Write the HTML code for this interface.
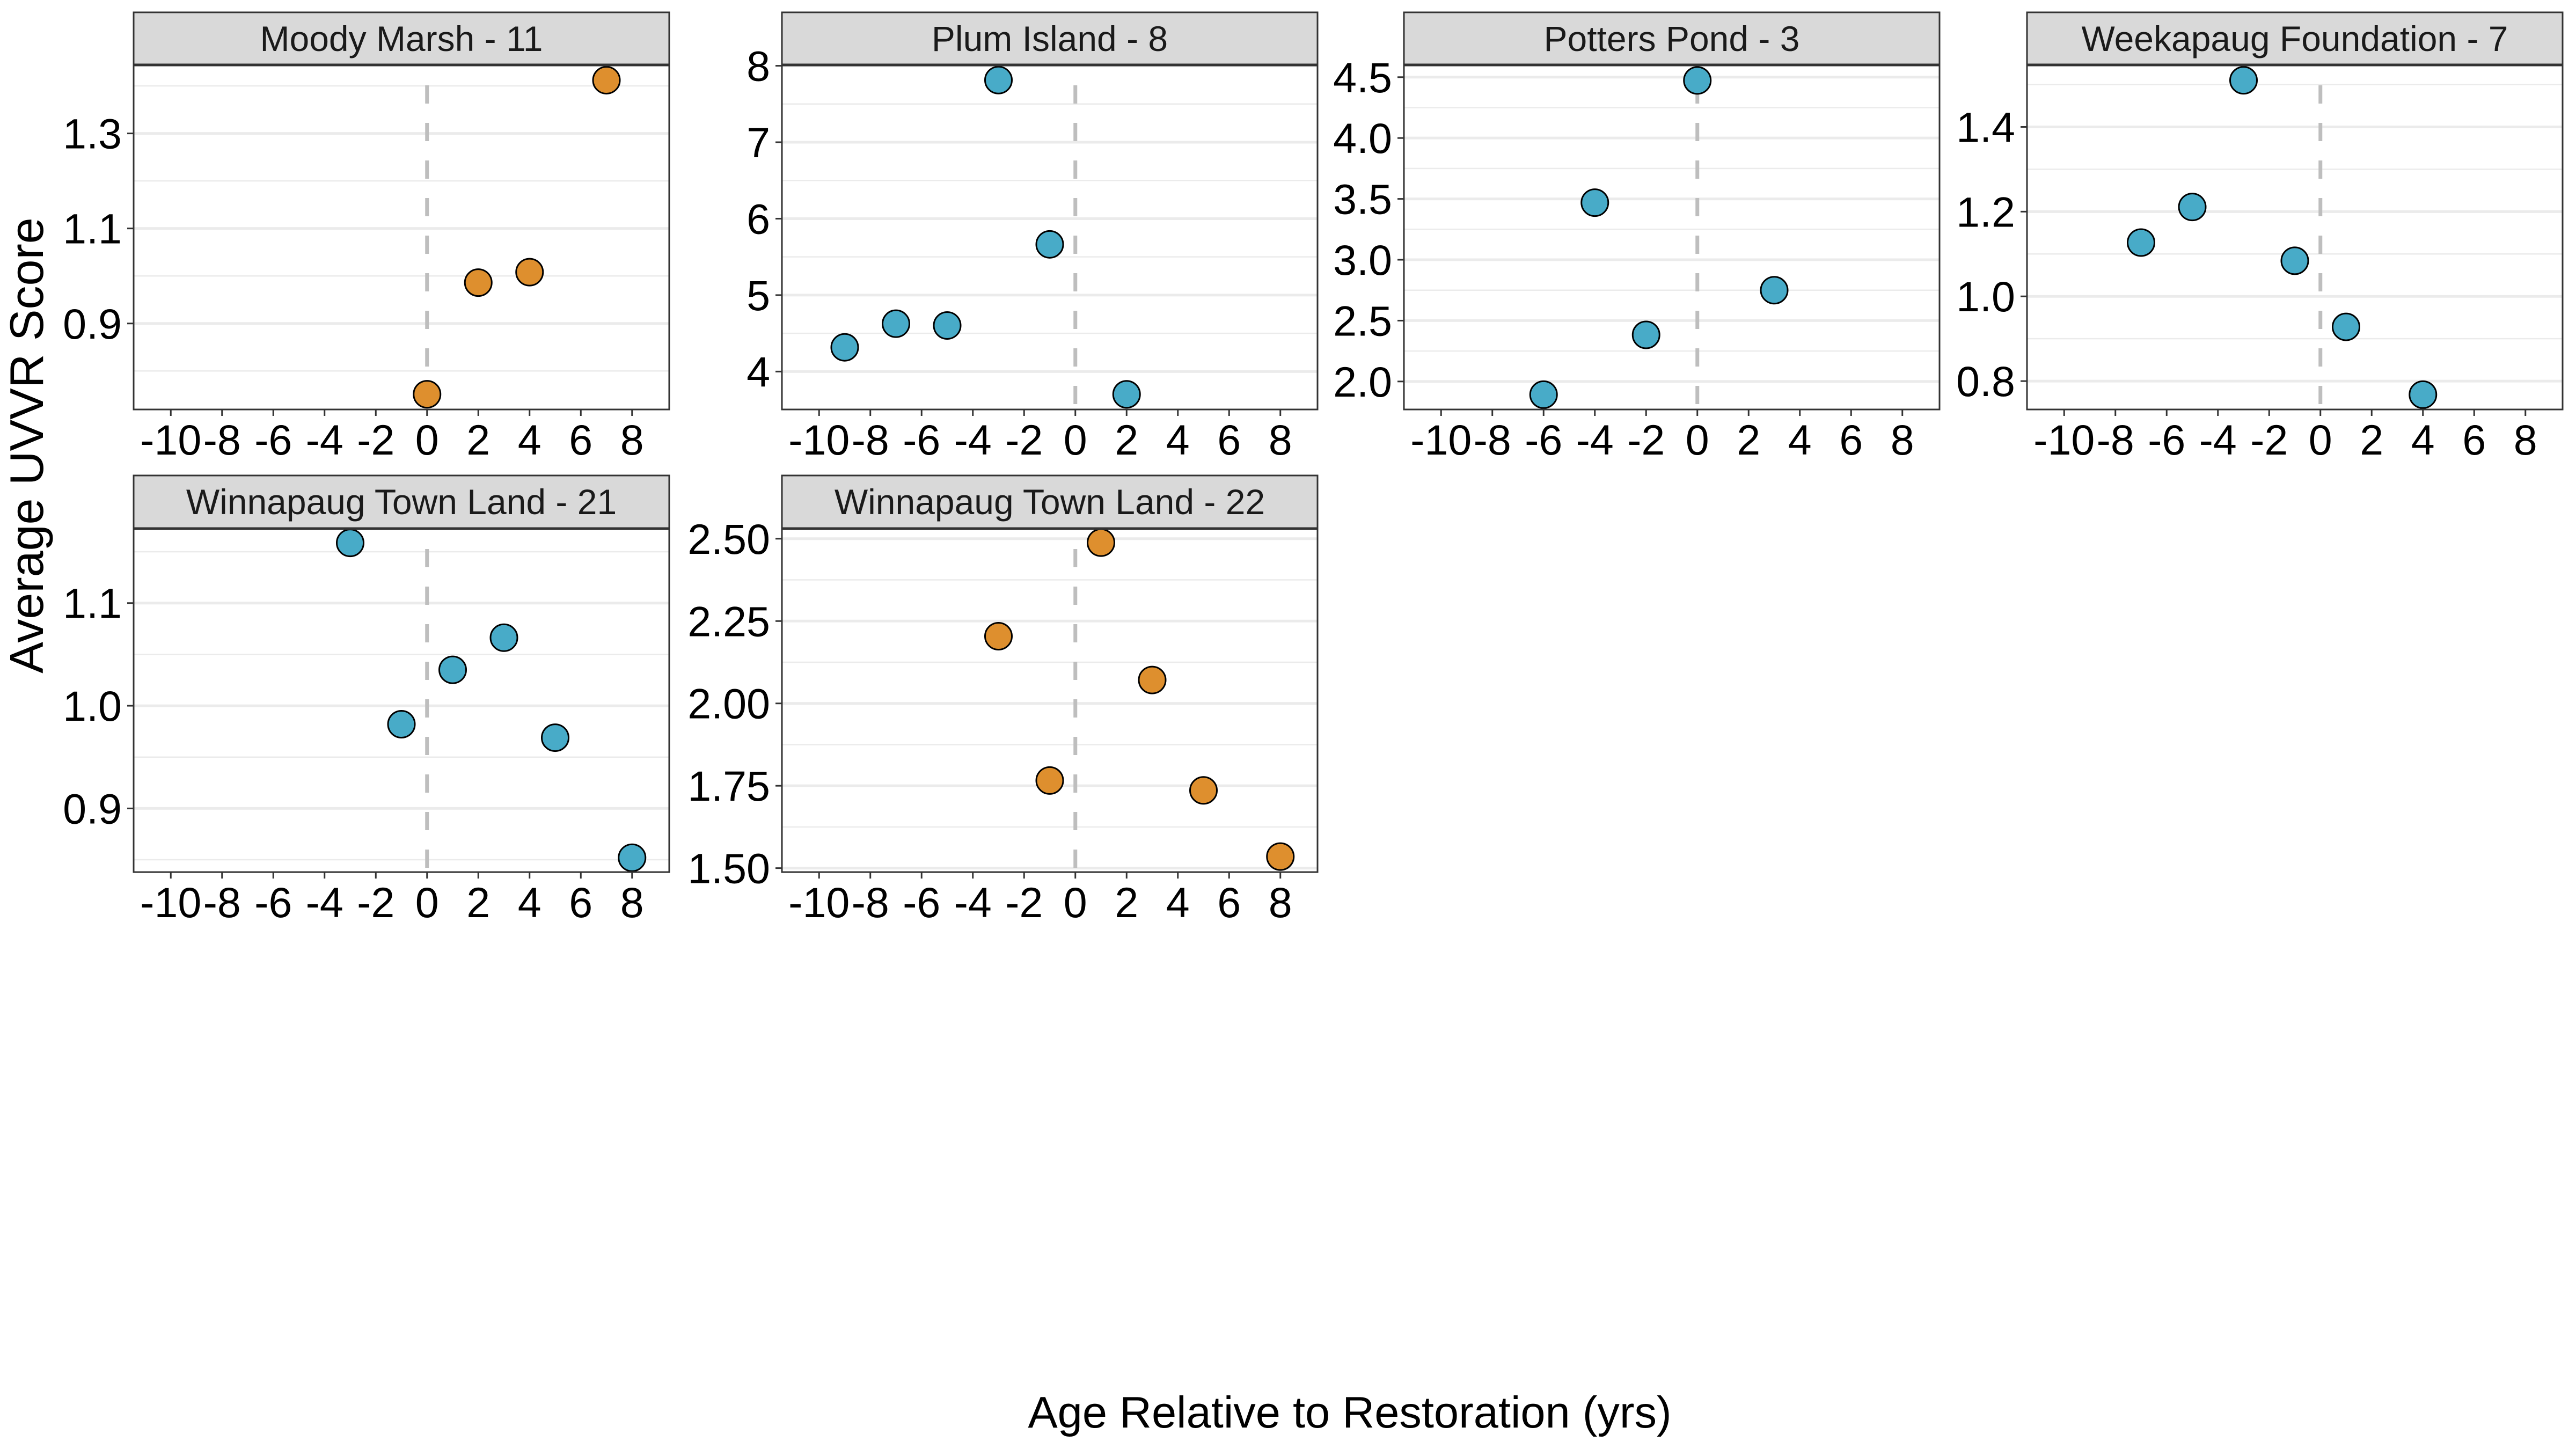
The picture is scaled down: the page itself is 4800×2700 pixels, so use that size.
<!DOCTYPE html>
<html><head><meta charset="utf-8">
<style>
html,body{margin:0;padding:0;background:#fff;}
svg{display:block;font-family:"Liberation Sans",Arial,sans-serif;}
</style></head>
<body>
<svg id="chart" width="4800" height="2700" viewBox="0 0 4800 2700" xmlns="http://www.w3.org/2000/svg">
<rect width="4800" height="2700" fill="#ffffff"/>
<text x="0" y="0" transform="translate(80,830) rotate(-90)" text-anchor="middle" font-size="88" fill="#000">Average UVVR Score</text>
<text x="2515" y="2660" text-anchor="middle" font-size="83" fill="#000">Age Relative to Restoration (yrs)</text>
</svg>
<script>
// ---- data ----
const panelTitles = ["Moody Marsh - 11","Plum Island - 8","Potters Pond - 3","Weekapaug Foundation - 7","Winnapaug Town Land - 21","Winnapaug Town Land - 22"];
const panelColors = ["#DE8F2E","#48ABC8","#48ABC8","#48ABC8","#48ABC8","#DE8F2E"];
const xTicks = [-10,-8,-6,-4,-2,0,2,4,6,8];
const xValues1 = [0,2,4,7];
const yValues1 = [0.751,0.986,1.008,1.412];
const xValues2 = [-9,-7,-5,-3,-1,2];
const yValues2 = [4.317,4.626,4.603,7.813,5.664,3.702];
const xValues3 = [-6,-4,-2,0,3];
const yValues3 = [1.892,3.469,2.383,4.473,2.75];
const xValues4 = [-7,-5,-3,-1,1,4];
const yValues4 = [1.127,1.211,1.510,1.084,0.928,0.768];
const xValues5 = [-3,-1,1,3,5,8];
const yValues5 = [1.1586,0.982,1.035,1.0663,0.9689,0.852];
const xValues6 = [-3,-1,1,3,5,8];
const yValues6 = [2.204,1.766,2.488,2.071,1.736,1.535];
const yTicks1 = [0.9,1.1,1.3], yMinor1 = [0.8,1.0,1.2,1.4];
const yTicks2 = [4,5,6,7,8], yMinor2 = [3.5,4.5,5.5,6.5,7.5];
const yTicks3 = [2.0,2.5,3.0,3.5,4.0,4.5], yMinor3 = [2.25,2.75,3.25,3.75,4.25];
const yTicks4 = [0.8,1.0,1.2,1.4], yMinor4 = [0.9,1.1,1.3,1.5];
const yTicks5 = [0.9,1.0,1.1], yMinor5 = [0.85,0.95,1.05,1.15];
const yTicks6 = [1.5,1.75,2.0,2.25,2.5], yMinor6 = [1.625,1.875,2.125,2.375];
const yDecimals = [1,0,1,1,1,2];
const yDomains = [[0.719,1.443],[3.504,8.004],[1.77,4.596],[0.733,1.545],[0.838,1.172],[1.488,2.529]];
const xDomain = [-11.45,9.45];

// ---- layout ----
const colLeft = [249,1457,2616,3777];
const panelW = 998;
const rows = [{stripTop:23,top:122,bottom:763},{stripTop:886,top:986,bottom:1625}];
const NS = "http://www.w3.org/2000/svg";
const svg = document.getElementById("chart");
function mk(tag, attrs, parent){const e=document.createElementNS(NS,tag);for(const k in attrs)e.setAttribute(k,attrs[k]);(parent||svg).appendChild(e);return e;}

const xs=[xValues1,xValues2,xValues3,xValues4,xValues5,xValues6];
const ys=[yValues1,yValues2,yValues3,yValues4,yValues5,yValues6];
const yt=[yTicks1,yTicks2,yTicks3,yTicks4,yTicks5,yTicks6];
const ym=[yMinor1,yMinor2,yMinor3,yMinor4,yMinor5,yMinor6];

for(let p=0;p<6;p++){
  const col=p%4, row=Math.floor(p/4);
  const L=colLeft[col], R=L+panelW, T=rows[row].top, B=rows[row].bottom, ST=rows[row].stripTop;
  const dom=yDomains[p];
  const sx=v=>L+(v-xDomain[0])/(xDomain[1]-xDomain[0])*(R-L);
  const sy=v=>B-(v-dom[0])/(dom[1]-dom[0])*(B-T);
  const g=mk("g",{});
  
  
  mk("rect",{x:L,y:T,width:R-L,height:B-T,fill:"#fff"},g);
  ym[p].forEach(v=>{const y=sy(v);if(y>T&&y<B){const l=mk("line",{x1:L,x2:R,y1:y,y2:y,stroke:"#EBEBEB","stroke-width":2.5},g);
    
    }});
  yt[p].forEach(v=>{const y=sy(v);
    const l=mk("line",{x1:L,x2:R,y1:y,y2:y,stroke:"#EBEBEB","stroke-width":5},g);
    
    
    const t=mk("line",{x1:L-12,x2:L,y1:y,y2:y,stroke:"#333","stroke-width":3},g);
    
    
    const tx=mk("text",{x:L-22,y:y+28,"text-anchor":"end","font-size":79,fill:"#000"},g);
    tx.textContent=v.toFixed(yDecimals[p]);
    
    
  });
  const vl=mk("line",{x1:sx(0),x2:sx(0),y1:T+37,y2:B,stroke:"#BEBEBE","stroke-width":7,"stroke-dasharray":"34 36"},g);
  
  
  xs[p].forEach((xv,i)=>{
    const c=mk("circle",{cx:sx(xv),cy:sy(ys[p][i]),r:25,fill:panelColors[p],stroke:"#000","stroke-width":3},g);
    
    
  });
  const bd=mk("rect",{x:L,y:T,width:R-L,height:B-T,fill:"none",stroke:"#333","stroke-width":3},g);
  
  
  const sr=mk("rect",{x:L,y:ST,width:R-L,height:T-ST-2,fill:"#D9D9D9",stroke:"#333","stroke-width":3},g);
  
  
  const st=mk("text",{x:(L+R)/2,y:ST+72,"text-anchor":"middle","font-size":66,fill:"#1a1a1a"},g);
  st.textContent=panelTitles[p];
  
  
  xTicks.forEach(v=>{const x=sx(v);
    const t=mk("line",{x1:x,x2:x,y1:B,y2:B+12,stroke:"#333","stroke-width":3},g);
    
    
    const tx=mk("text",{x:x,y:B+84,"text-anchor":"middle","font-size":79,fill:"#000"},g);
    tx.textContent=String(v);
    
    
  });
}
</script>
</body></html>
